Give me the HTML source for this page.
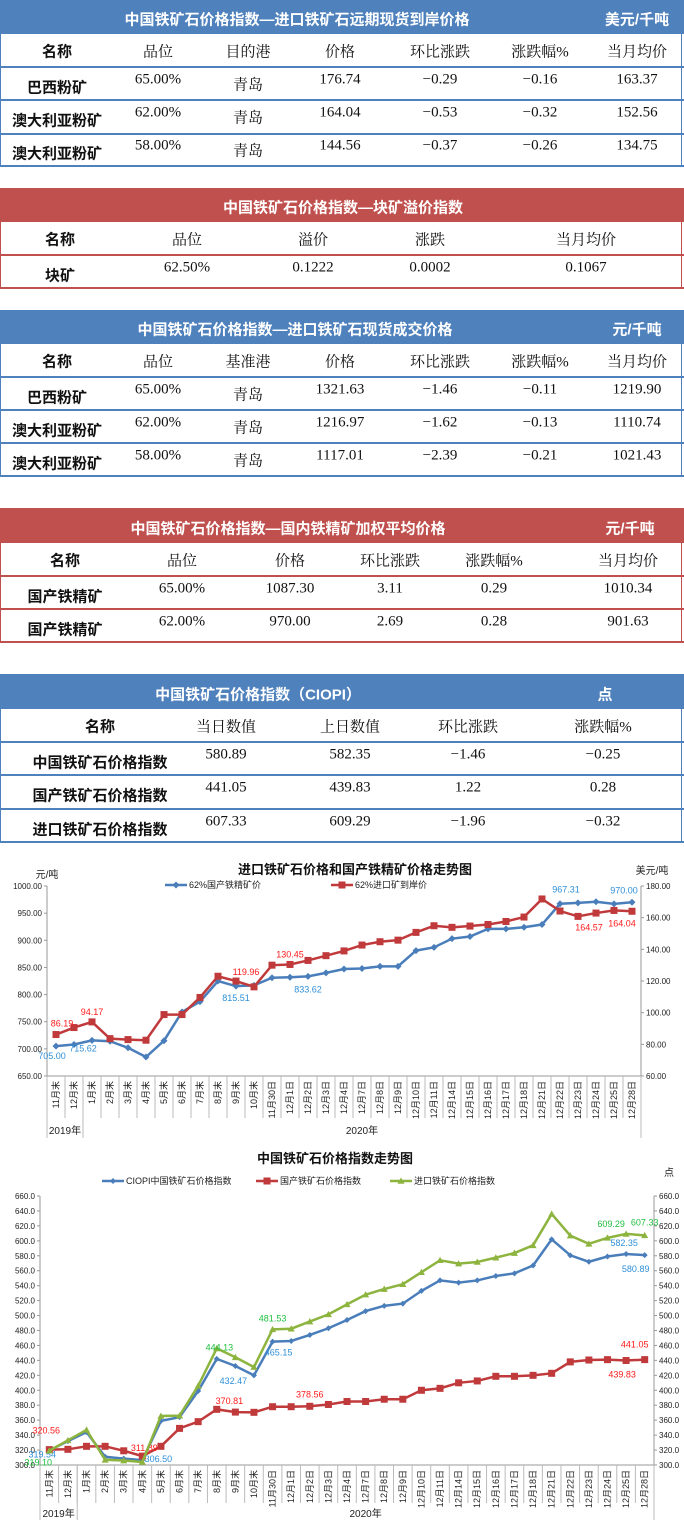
<!DOCTYPE html>
<html><head><meta charset="utf-8">
<style>
body{margin:0;width:684px;height:1530px;background:#fff;position:relative;overflow:hidden;font-family:"Liberation Serif","Noto Serif CJK SC",serif;}
.tb{position:absolute;left:0;width:682px;box-sizing:border-box;}
.hd{position:absolute;left:0;width:684px;color:#fff;font-weight:bold;font-size:15px;font-family:"Liberation Sans","Noto Sans CJK SC",sans-serif;}
.c{position:absolute;transform:translate(-50%,-50%);white-space:nowrap;font-size:14px;color:#111;}
.b{font-weight:bold;font-family:"Liberation Sans","Noto Sans CJK SC",sans-serif;}
.ln{position:absolute;left:0;width:684px;height:2px;}
svg{position:absolute;left:0;}
svg text{font-family:"Liberation Sans","Noto Sans CJK SC",sans-serif;}
</style></head><body>
<div id="tables"></div>

<svg id="c1" width="684" height="290" style="top:855px"></svg>
<svg id="c2" width="684" height="385" style="top:1145px"></svg>

<script>
const BLUE='#4f81bd', RED='#c0504d';
const tables=[
 {top:0,color:BLUE,title:'中国铁矿石价格指数—进口铁矿石远期现货到岸价格',tx:297,unit:'美元/千吨',ux:637,rowsY:[34,67,100,134,166],
  cols:[57,158,248,340,440,540,637],
  head:['名称','品位','目的港','价格','环比涨跌','涨跌幅%','当月均价'],
  rows:[['巴西粉矿','65.00%','青岛','176.74','−0.29','−0.16','163.37'],['澳大利亚粉矿','62.00%','青岛','164.04','−0.53','−0.32','152.56'],['澳大利亚粉矿','58.00%','青岛','144.56','−0.37','−0.26','134.75']]},
 {top:188,color:RED,title:'中国铁矿石价格指数—块矿溢价指数',tx:343,unit:'',ux:0,rowsY:[222,255,288],
  cols:[60,187,313,430,586],head:['名称','品位','溢价','涨跌','当月均价'],
  rows:[['块矿','62.50%','0.1222','0.0002','0.1067']]},
 {top:310,color:BLUE,title:'中国铁矿石价格指数—进口铁矿石现货成交价格',tx:295,unit:'元/千吨',ux:637,rowsY:[344,377,410,443,476],
  cols:[57,158,248,340,440,540,637],
  head:['名称','品位','基准港','价格','环比涨跌','涨跌幅%','当月均价'],
  rows:[['巴西粉矿','65.00%','青岛','1321.63','−1.46','−0.11','1219.90'],['澳大利亚粉矿','62.00%','青岛','1216.97','−1.62','−0.13','1110.74'],['澳大利亚粉矿','58.00%','青岛','1117.01','−2.39','−0.21','1021.43']]},
 {top:508,color:RED,title:'中国铁矿石价格指数—国内铁精矿加权平均价格',tx:288,unit:'元/千吨',ux:630,rowsY:[543,576,609,642],
  cols:[65,182,290,390,494,628],head:['名称','品位','价格','环比涨跌','涨跌幅%','当月均价'],
  rows:[['国产铁精矿','65.00%','1087.30','3.11','0.29','1010.34'],['国产铁精矿','62.00%','970.00','2.69','0.28','901.63']]},
 {top:674,color:BLUE,title:'中国铁矿石价格指数（CIOPI）',tx:258,unit:'点',ux:605,rowsY:[709,742,775,809,842],
  cols:[100,226,350,468,603],head:['名称','当日数值','上日数值','环比涨跌','涨跌幅%'],
  rows:[['中国铁矿石价格指数','580.89','582.35','−1.46','−0.25'],['国产铁矿石价格指数','441.05','439.83','1.22','0.28'],['进口铁矿石价格指数','607.33','609.29','−1.96','−0.32']]}
];
const host=document.getElementById('tables');
tables.forEach((t,ti)=>{
  const hd=document.createElement('div');hd.className='hd';
  
  
  hd.style.top=t.top+'px';hd.style.height=(t.rowsY[0]-t.top)+'px';hd.style.background=t.color;
  host.appendChild(hd);
  const h=t.rowsY[0]-t.top;
  const tt=document.createElement('div');tt.className='c';tt.style.cssText=`left:${t.tx}px;top:${h/2+2}px;color:#fff;font-size:15px`;tt.textContent=t.title;
  
  
  hd.appendChild(tt);
  if(t.unit){const u=document.createElement('div');u.className='c';u.style.cssText=`left:${t.ux}px;top:${h/2+2}px;color:#fff;font-size:15px`;u.textContent=t.unit;
   
   
   hd.appendChild(u);}
  const last=t.rowsY[t.rowsY.length-1];
  const box=document.createElement('div');box.className='tb';
  
  
  box.style.cssText=`top:${t.rowsY[0]}px;height:${last-t.rowsY[0]+1}px;border-left:1.5px solid ${t.color};border-right:1.5px solid ${t.color};`;
  host.appendChild(box);
  t.rowsY.slice(1).forEach(y=>{const l=document.createElement('div');l.className='ln';l.style.top=(y-1)+'px';l.style.background=t.color;
   
   
   host.appendChild(l);});
  const all=[t.head].concat(t.rows);
  all.forEach((r,ri)=>{
    const y0=t.rowsY[ri], y1=t.rowsY[ri+1], mid=(y0+y1)/2;
    r.forEach((v,ci)=>{
      const d=document.createElement('div');d.className='c'+(ci===0?' b':'');
      let y=mid;
      if(ri>0){y = ci===0? mid+3 : (/^[\d−\-]/.test(v)? mid-4 : mid);}
      d.style.cssText+=`left:${t.cols[ci]}px;top:${y}px;font-size:15px`;
      d.textContent=v;
      
      
      host.appendChild(d);
    });
  });
});

/* ---------------- chart data ---------------- */
const categories=['11月末','12月末','1月末','2月末','3月末','4月末','5月末','6月末','7月末','8月末','9月末','10月末','11月30日','12月1日','12月2日','12月3日','12月4日','12月7日','12月8日','12月9日','12月10日','12月11日','12月14日','12月15日','12月16日','12月17日','12月18日','12月21日','12月22日','12月23日','12月24日','12月25日','12月28日'];
const domestic62=[705,708,715.62,714,702,685,715,768,787,825,815.51,817,831,832,833.62,840,847,848,852,852,881,887,903,907,921,921,924,929,967.31,969,971,967,970];
const import62=[86.19,90.6,94.17,83.6,83,82.6,98.8,98.8,109.6,123,119.96,116.3,130,130.45,133,136,139,142.7,144.8,145.8,150.7,154.9,153.9,154.7,155.7,157.6,160.4,171.8,164.2,160.8,162.9,164.57,164.04];
const leftTicks1=['650.00','700.00','750.00','800.00','850.00','900.00','950.00','1000.00'];
const rightTicks1=['60.00','80.00','100.00','120.00','140.00','160.00','180.00'];
const ciopi=[319.54,332,344,311,308.5,306.5,359,364,399,442,432.47,420,465.15,466,474,483,494,506,513,516,533,547,544,547,553,556.5,567,602,580.6,572,579,582.35,580.89];
const domesticIdx=[320.56,321,325,325,319,311.89,325,349,358,374.5,370.81,370.5,378,378,378.56,381,385,385,388,388,400,402.6,410,412.5,418.7,418.7,420,422.7,438,440.5,441,439.83,441.05];
const importIdx=[319.10,333,347,307,306,304,365.6,366,406,456,444.13,431,481.53,482.4,492,501.6,515,528,535.5,542,558,574,569.5,571.7,577.5,583.7,594,636,607,596,604,609.29,607.33];
const ticks2=['300.0','320.0','340.0','360.0','380.0','400.0','420.0','440.0','460.0','480.0','500.0','520.0','540.0','560.0','580.0','600.0','620.0','640.0','660.0'];

const NS='http://www.w3.org/2000/svg';
function el(svg,tag,attrs,text){const e=document.createElementNS(NS,tag);for(const k in attrs)e.setAttribute(k,attrs[k]);if(text!==undefined)e.textContent=text;svg.appendChild(e);return e;}
function marker(svg,type,x,y,color,s){
  if(type==='diamond')return el(svg,'polygon',{points:`${x},${y-s} ${x+s},${y} ${x},${y+s} ${x-s},${y}`,fill:color});
  if(type==='square')return el(svg,'rect',{x:x-s,y:y-s,width:2*s,height:2*s,fill:color});
  return el(svg,'polygon',{points:`${x},${y-s} ${x+s},${y+s*0.8} ${x-s},${y+s*0.8}`,fill:color});
}
function drawChart(o){
  const svg=document.getElementById(o.id);
  const n=categories.length, bw=(o.x1-o.x0)/n;
  const X=i=>o.x0+bw*(i+0.5);
  const t=el(svg,'text',{x:o.titleX,y:o.titleY,'text-anchor':'middle','font-size':13,'font-weight':'bold',fill:'#111'},o.title);
  
  
  el(svg,'line',{x1:o.x0,y1:o.yT,x2:o.x0,y2:o.yB,stroke:'#999','stroke-width':1});
  el(svg,'line',{x1:o.x1,y1:o.yT,x2:o.x1,y2:o.yB,stroke:'#999','stroke-width':1});
  el(svg,'line',{x1:o.x0,y1:o.yB,x2:o.x1,y2:o.yB,stroke:'#999','stroke-width':1});
  o.axes.forEach(ax=>{
    ax.ticks.forEach(tk=>{
      const v=parseFloat(tk), y=o.yB-(v-ax.min)/(ax.max-ax.min)*(o.yB-o.yT);
      const tx=el(svg,'text',{x:ax.side==='left'?o.x0-5:o.x1+5,y:y+3,'text-anchor':ax.side==='left'?'end':'start','font-size':o.tickFs,fill:'#222'},tk);
      
      
      el(svg,'line',{x1:ax.side==='left'?o.x0-3:o.x1,y1:y,x2:ax.side==='left'?o.x0:o.x1+3,y2:y,stroke:'#999'});
    });
  });
  categories.forEach((c,i)=>{
    const x=X(i);
    const tx=el(svg,'text',{x:x+3,y:o.yB+5,'text-anchor':'end','font-size':9,fill:'#222',transform:`rotate(-90 ${x+3} ${o.yB+5})`},c);
    
    
    el(svg,'line',{x1:o.x0+bw*(i+1),y1:o.yB,x2:o.x0+bw*(i+1),y2:o.sepB,stroke:'#bbb'});
  });
  [o.x0,o.x0+bw*2,o.x1].forEach(x=>el(svg,'line',{x1:x,y1:o.yB,x2:x,y2:o.yearB,stroke:'#bbb'}));
  const y1=el(svg,'text',{x:o.x0+bw,y:o.yearY,'text-anchor':'middle','font-size':10,fill:'#222'},'2019年');
  
  
  const y2=el(svg,'text',{x:(o.x0+bw*2+o.x1)/2,y:o.yearY,'text-anchor':'middle','font-size':10,fill:'#222'},'2020年');
  
  
  o.series.forEach(s=>{
    const ax=o.axes[s.axis];
    const Y=v=>o.yB-(v-ax.min)/(ax.max-ax.min)*(o.yB-o.yT);
    const pts=s.data.map((v,i)=>X(i)+','+Y(v)).join(' ');
    const pl=el(svg,'polyline',{points:pts,fill:'none',stroke:s.color,'stroke-width':2.5});
    
    
    s.data.forEach((v,i)=>{
      const m=marker(svg,s.marker,X(i),Y(v),s.color,s.size);
      
      
    });
    s.labels.forEach(([i,dx,dy])=>{
      const lt=el(svg,'text',{x:X(i)+dx,y:Y(s.data[i])+dy,'text-anchor':'middle','font-size':9,fill:s.labelColor},s.data[i].toFixed(2));
      
      
    });
    el(svg,'line',{x1:s.lx,y1:s.ly,x2:s.lx+22,y2:s.ly,stroke:s.color,'stroke-width':2.5});
    marker(svg,s.marker,s.lx+11,s.ly,s.color,s.size);
    const lg=el(svg,'text',{x:s.lx+24,y:s.ly+3,'font-size':9,fill:'#222'},s.legend);
    
    
  });
  o.units.forEach(u=>{const ut=el(svg,'text',{x:u[0],y:u[1],'font-size':10,fill:'#222','text-anchor':'middle'},u[2]);
    
    });
}
drawChart({id:'c1',x0:47,x1:641,yT:31,yB:221,sepB:263,yearB:283,yearY:279,tickFs:8,
  title:'进口铁矿石价格和国产铁精矿价格走势图',titleX:355,titleY:19,
  units:[[47,23,'元/吨'],[652,19,'美元/吨']],
  axes:[{side:'left',min:650,max:1000,ticks:leftTicks1},{side:'right',min:60,max:180,ticks:rightTicks1}],
  series:[
   {name:'domestic-62',data:domestic62,axis:0,color:'#4a7ebb',marker:'diamond',size:3.5,labelColor:'#2e8fd8',legend:'62%国产铁精矿价',lx:165,ly:30,
    labels:[[0,-4,13],[2,-9,11],[10,0,15],[14,0,16],[28,6,-11],[32,-8,-9]]},
   {name:'import-62',data:import62,axis:1,color:'#c0393b',marker:'square',size:3.5,labelColor:'#ff1a1a',legend:'62%进口矿到岸价',lx:331,ly:30,
    labels:[[0,6,-8],[2,0,-7],[10,10,-6],[13,0,-7],[31,-25,20],[32,-10,15]]}
  ]});
drawChart({id:'c2',x0:40,x1:654,yT:51,yB:320,sepB:358,yearB:375,yearY:372,tickFs:8,
  title:'中国铁矿石价格指数走势图',titleX:335,titleY:18,
  units:[[669,31,'点']],
  axes:[{side:'left',min:300,max:660,ticks:ticks2},{side:'right',min:300,max:660,ticks:ticks2}],
  series:[
   {name:'ciopi',data:ciopi,axis:0,color:'#4a7ebb',marker:'diamond',size:3,labelColor:'#2e8fd8',legend:'CIOPI中国铁矿石价格指数',lx:102,ly:36,
    labels:[[0,-7,7],[5,16,2],[10,-2,18],[12,6,14],[31,-2,-8],[32,-9,17]]},
   {name:'domestic-index',data:domesticIdx,axis:0,color:'#c0393b',marker:'square',size:3.5,labelColor:'#ff1a1a',legend:'国产铁矿石价格指数',lx:256,ly:36,
    labels:[[0,-3,-16],[5,2,-5],[10,-6,-8],[14,0,-9],[31,-4,17],[32,-10,-12]]},
   {name:'import-index',data:importIdx,axis:0,color:'#8db43f',marker:'triangle',size:3.5,labelColor:'#1fbf3f',legend:'进口铁矿石价格指数',lx:390,ly:36,
    labels:[[0,-11,15],[10,-16,-7],[12,0,-8],[31,-15,-7],[32,0,-10]]}
  ]});
</script>
</body></html>
